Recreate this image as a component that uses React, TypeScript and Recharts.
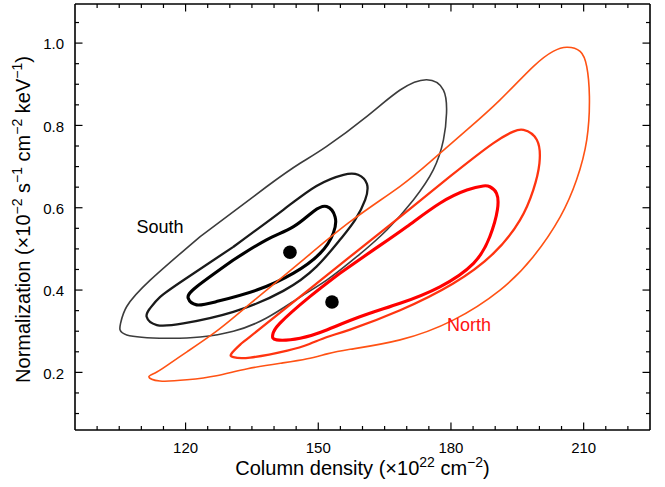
import React from 'react';
import { ScatterChart, Scatter, XAxis, YAxis, Label } from 'recharts';

// Tick positions and labels
const xTicks = [100, 105, 110, 115, 120, 125, 130, 135, 140, 145, 150, 155, 160, 165, 170, 175, 180, 185, 190, 195, 200, 205, 210, 215, 220];
const xMajor = [120, 150, 180, 210];
const yTicks = [0.1, 0.15, 0.2, 0.25, 0.3, 0.35, 0.4, 0.45, 0.5, 0.55, 0.6, 0.65, 0.7, 0.75, 0.8, 0.85, 0.9, 0.95, 1.0, 1.05];
const yMajor = [0.2, 0.4, 0.6, 0.8, 1.0];
const xDomain = [95, 225];
const yDomain = [0.06, 1.095];

// Confidence contours (column density, normalization)
const southOuter = [
  { x: 123.3, y: 0.530 }, { x: 138.3, y: 0.651 }, { x: 145.9, y: 0.708 }, { x: 151.9, y: 0.749 },
  { x: 161.0, y: 0.822 }, { x: 168.5, y: 0.886 }, { x: 174.5, y: 0.911 }, { x: 178.3, y: 0.886 },
  { x: 179.0, y: 0.830 }, { x: 178.3, y: 0.765 }, { x: 176.0, y: 0.692 }, { x: 171.5, y: 0.619 },
  { x: 165.5, y: 0.546 }, { x: 158.7, y: 0.481 }, { x: 151.9, y: 0.424 }, { x: 145.9, y: 0.383 },
  { x: 138.3, y: 0.332 }, { x: 130.8, y: 0.300 }, { x: 123.3, y: 0.286 }, { x: 115.7, y: 0.283 },
  { x: 106.7, y: 0.291 }, { x: 105.3, y: 0.319 }, { x: 106.7, y: 0.360 }, { x: 112.0, y: 0.424 },
];
const southMiddle = [
  { x: 130.8, y: 0.505 }, { x: 142.1, y: 0.595 }, { x: 149.6, y: 0.653 }, { x: 155.7, y: 0.680 },
  { x: 159.0, y: 0.680 }, { x: 161.0, y: 0.658 }, { x: 160.6, y: 0.619 }, { x: 158.3, y: 0.570 },
  { x: 154.9, y: 0.522 }, { x: 149.6, y: 0.457 }, { x: 142.1, y: 0.398 }, { x: 130.8, y: 0.347 },
  { x: 119.5, y: 0.319 }, { x: 113.5, y: 0.315 }, { x: 111.2, y: 0.335 }, { x: 112.0, y: 0.356 },
  { x: 114.2, y: 0.383 }, { x: 119.5, y: 0.424 },
];
const southInner = [
  { x: 130.8, y: 0.473 }, { x: 138.3, y: 0.522 }, { x: 144.4, y: 0.554 }, { x: 148.9, y: 0.591 },
  { x: 151.9, y: 0.603 }, { x: 153.8, y: 0.578 }, { x: 153.4, y: 0.538 }, { x: 150.4, y: 0.489 },
  { x: 144.4, y: 0.441 }, { x: 136.1, y: 0.400 }, { x: 127.0, y: 0.372 }, { x: 122.5, y: 0.364 },
  { x: 120.6, y: 0.380 }, { x: 122.5, y: 0.408 },
];
const northOuter = [
  { x: 134.6, y: 0.367 }, { x: 145.9, y: 0.467 }, { x: 157.2, y: 0.566 }, { x: 168.5, y: 0.652 },
  { x: 176.0, y: 0.718 }, { x: 183.6, y: 0.789 }, { x: 191.1, y: 0.862 }, { x: 198.6, y: 0.943 },
  { x: 203.1, y: 0.980 }, { x: 206.2, y: 0.990 }, { x: 209.2, y: 0.980 }, { x: 210.7, y: 0.943 },
  { x: 211.3, y: 0.870 }, { x: 210.7, y: 0.765 }, { x: 208.4, y: 0.668 }, { x: 204.7, y: 0.578 },
  { x: 198.6, y: 0.481 }, { x: 191.1, y: 0.400 }, { x: 180.5, y: 0.327 }, { x: 168.5, y: 0.279 },
  { x: 157.2, y: 0.256 }, { x: 152.0, y: 0.245 }, { x: 147.5, y: 0.233 }, { x: 142.0, y: 0.223 },
  { x: 134.0, y: 0.209 }, { x: 127.0, y: 0.192 }, { x: 120.3, y: 0.182 }, { x: 114.2, y: 0.179 },
  { x: 111.7, y: 0.189 }, { x: 113.5, y: 0.201 }, { x: 116.9, y: 0.225 }, { x: 120.3, y: 0.250 },
  { x: 127.0, y: 0.300 },
];
const northMiddle = [
  { x: 145.9, y: 0.384 }, { x: 157.2, y: 0.481 }, { x: 168.5, y: 0.578 }, { x: 179.8, y: 0.676 },
  { x: 189.6, y: 0.757 }, { x: 194.1, y: 0.785 }, { x: 196.4, y: 0.789 }, { x: 199.4, y: 0.765 },
  { x: 200.0, y: 0.708 }, { x: 198.6, y: 0.643 }, { x: 195.6, y: 0.570 }, { x: 189.6, y: 0.489 },
  { x: 180.5, y: 0.416 }, { x: 168.5, y: 0.351 }, { x: 157.2, y: 0.304 }, { x: 152.0, y: 0.286 },
  { x: 148.0, y: 0.269 }, { x: 143.0, y: 0.253 }, { x: 134.6, y: 0.236 }, { x: 130.8, y: 0.237 },
  { x: 130.4, y: 0.246 }, { x: 132.3, y: 0.267 }, { x: 134.6, y: 0.287 },
];
const northInner = [
  { x: 154.9, y: 0.441 }, { x: 162.4, y: 0.497 }, { x: 170.0, y: 0.554 }, { x: 177.5, y: 0.611 },
  { x: 183.6, y: 0.643 }, { x: 187.3, y: 0.653 }, { x: 188.8, y: 0.651 }, { x: 190.3, y: 0.635 },
  { x: 190.5, y: 0.595 }, { x: 188.8, y: 0.530 }, { x: 185.1, y: 0.465 }, { x: 177.5, y: 0.408 },
  { x: 168.5, y: 0.368 }, { x: 159.4, y: 0.335 }, { x: 151.9, y: 0.303 }, { x: 145.9, y: 0.283 },
  { x: 140.6, y: 0.279 }, { x: 139.7, y: 0.291 }, { x: 141.3, y: 0.319 }, { x: 148.1, y: 0.384 },
];

// Best-fit points
const bestFit = [
  { x: 143.6, y: 0.492 },
  { x: 153.1, y: 0.371 },
];

// Region labels
const regionLabels = [
  { x: 114.2, y: 0.553, text: 'South', color: '#000000' },
  { x: 184.1, y: 0.315, text: 'North', color: '#ff1212' },
];

const FONT = '"Liberation Sans", Arial, Helvetica, sans-serif';
const closed = (pts: { x: number; y: number }[]) => [...pts, pts[0]];

const isMajor = (list: number[], v: number) => list.some((m) => Math.abs(m - v) < 1e-9);

const BottomTick = (p: any) => {
  const major = isMajor(xMajor, p.payload.value);
  return (
    <g>
      <line x1={p.x} x2={p.x} y1={p.y} y2={p.y - (major ? 7.5 : 4)} stroke="#000" strokeWidth={1.2} />
      {major && (
        <text x={p.x} y={p.y + 22.7} textAnchor="middle" fontFamily={FONT} fontSize={15} fill="#000">
          {p.payload.value}
        </text>
      )}
    </g>
  );
};
const TopTick = (p: any) => {
  const major = isMajor(xMajor, p.payload.value);
  return <line x1={p.x} x2={p.x} y1={p.y} y2={p.y + (major ? 7.5 : 4)} stroke="#000" strokeWidth={1.2} />;
};
const LeftTick = (p: any) => {
  const major = isMajor(yMajor, p.payload.value);
  return (
    <g>
      <line x1={p.x} x2={p.x + (major ? 7.5 : 4)} y1={p.y} y2={p.y} stroke="#000" strokeWidth={1.2} />
      {major && (
        <text x={p.x - 11} y={p.y + 6.3} textAnchor="end" fontFamily={FONT} fontSize={15} fill="#000">
          {Number(p.payload.value).toFixed(1)}
        </text>
      )}
    </g>
  );
};
const RightTick = (p: any) => {
  const major = isMajor(yMajor, p.payload.value);
  return <line x1={p.x} x2={p.x - (major ? 7.5 : 4)} y1={p.y} y2={p.y} stroke="#000" strokeWidth={1.2} />;
};

const XLabel = (props: any) => {
  const vb = props.viewBox || {};
  const cx = vb.x + vb.width / 2;
  const y = vb.y + 45.3;
  return (
    <text x={cx} y={y} textAnchor="middle" fontFamily={FONT} fontSize={20} fill="#000">
      <tspan>Column density (×10</tspan>
      <tspan fontSize={14} dy={-8}>22</tspan>
      <tspan dy={8}> cm</tspan>
      <tspan fontSize={14} dy={-8}>−2</tspan>
      <tspan dy={8}>)</tspan>
    </text>
  );
};

const YLabel = (props: any) => {
  const vb = props.viewBox || {};
  const x = 29.5;
  const cy = vb.y + vb.height / 2 + 2.5;
  return (
    <text x={x} y={cy} transform={`rotate(-90, ${x}, ${cy})`} textAnchor="middle" fontFamily={FONT} fontSize={20} fill="#000">
      <tspan>Normalization (×10</tspan>
      <tspan fontSize={14} dy={-8}>−2</tspan>
      <tspan dy={8}> s</tspan>
      <tspan fontSize={14} dy={-8}>−1</tspan>
      <tspan dy={8}> cm</tspan>
      <tspan fontSize={14} dy={-8}>−2</tspan>
      <tspan dy={8}> keV</tspan>
      <tspan fontSize={14} dy={-8}>−1</tspan>
      <tspan dy={8}>)</tspan>
    </text>
  );
};

const NoShape = () => <g />;
const Dot = (p: any) => <circle cx={p.cx} cy={p.cy} r={6.8} fill="#000" />;
const TextShape = (p: any) => (
  <text x={p.cx} y={p.cy} dy="0.35em" textAnchor="middle" fontFamily={FONT} fontSize={18} fill={p.payload.color}>
    {p.payload.text}
  </text>
);

const contours = [
  { name: 'southOuter', data: southOuter, stroke: '#3c3c3c', width: 1.6 },
  { name: 'southMiddle', data: southMiddle, stroke: '#1a1a1a', width: 2.3 },
  { name: 'southInner', data: southInner, stroke: '#000000', width: 3.1 },
  { name: 'northOuter', data: northOuter, stroke: '#ff5214', width: 1.6 },
  { name: 'northMiddle', data: northMiddle, stroke: '#ff3410', width: 2.3 },
  { name: 'northInner', data: northInner, stroke: '#ff0000', width: 3.1 },
];

const axisLine = { stroke: '#000', strokeWidth: 1.6 };

export default function App() {
  return (
    <div style={{ position: 'absolute', left: 0, top: 0, width: 665, height: 487, background: '#fff' }}>
      <ScatterChart width={665} height={487} margin={{ top: 0, right: 0, bottom: 0, left: 0 }}>
        <XAxis xAxisId="b" type="number" dataKey="x" orientation="bottom" domain={xDomain} ticks={xTicks}
          interval={0} height={57} tickSize={0} tickMargin={0} tickLine={false} axisLine={axisLine}
          tick={(p: any) => <BottomTick {...p} />} allowDataOverflow>
          <Label content={(p: any) => <XLabel {...p} />} />
        </XAxis>
        <XAxis xAxisId="t" type="number" dataKey="x" orientation="top" domain={xDomain} ticks={xTicks}
          interval={0} height={4} tickSize={0} tickMargin={0} tickLine={false} axisLine={axisLine}
          tick={(p: any) => <TopTick {...p} />} allowDataOverflow />
        <YAxis yAxisId="l" type="number" dataKey="y" orientation="left" domain={yDomain} ticks={yTicks}
          interval={0} width={75} tickSize={0} tickMargin={0} tickLine={false} axisLine={axisLine}
          tick={(p: any) => <LeftTick {...p} />} allowDataOverflow>
          <Label content={(p: any) => <YLabel {...p} />} />
        </YAxis>
        <YAxis yAxisId="r" type="number" dataKey="y" orientation="right" domain={yDomain} ticks={yTicks}
          interval={0} width={15} tickSize={0} tickMargin={0} tickLine={false} axisLine={axisLine}
          tick={(p: any) => <RightTick {...p} />} allowDataOverflow />
        {contours.map((c) => (
          <Scatter key={c.name} xAxisId="b" yAxisId="l" data={closed(c.data)}
            line={{ stroke: c.stroke, strokeWidth: c.width, fill: 'none' }} lineType="joint" lineJointType="natural"
            shape={NoShape} isAnimationActive={false} />
        ))}
        <Scatter xAxisId="b" yAxisId="l" data={bestFit} shape={Dot} fill="#000" isAnimationActive={false} />
        <Scatter xAxisId="b" yAxisId="l" data={regionLabels} shape={TextShape} isAnimationActive={false} />
      </ScatterChart>
    </div>
  );
}
